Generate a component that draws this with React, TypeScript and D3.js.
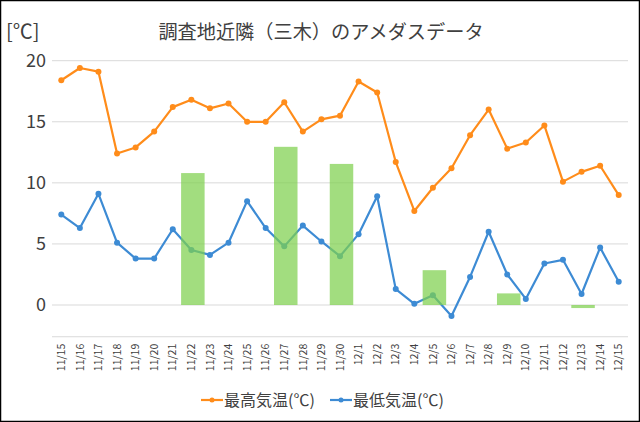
import React, { useEffect, useRef } from "react";
import * as d3 from "d3";

const dates = ["11/15","11/16","11/17","11/18","11/19","11/20","11/21","11/22","11/23","11/24","11/25","11/26","11/27","11/28","11/29","11/30","12/1","12/2","12/3","12/4","12/5","12/6","12/7","12/8","12/9","12/10","12/11","12/12","12/13","12/14","12/15"];
const maxTemp = [18.4,19.4,19.1,12.4,12.9,14.2,16.2,16.8,16.1,16.5,15.0,15.0,16.6,14.2,15.2,15.5,18.3,17.4,11.7,7.7,9.6,11.2,13.9,16.0,12.8,13.3,14.7,10.1,10.9,11.4,9.0];
const minTemp = [7.4,6.3,9.1,5.1,3.8,3.8,6.2,4.5,4.1,5.1,8.5,6.3,4.8,6.5,5.2,4.0,5.8,8.9,1.3,0.1,0.8,-0.9,2.3,6.0,2.5,0.5,3.4,3.7,0.9,4.7,1.9];
const barDates = ["11/22","11/27","11/30","12/5","12/9","12/13"];
const barValues = [10.8,12.95,11.55,2.85,0.95,-0.25];
const yTicks = [0,5,10,15,20];
const seriesNames = ["最高気温(℃)","最低気温(℃)"];

const W = 640, H = 422;
const FONT = "'Noto Sans CJK JP', 'Noto Sans', sans-serif";

export default function App() {
  const ref = useRef<SVGSVGElement>(null);
  useEffect(() => {
    document.body.style.margin = "0";
    const svg = d3.select(ref.current);
    svg.selectAll("*").remove();

    const left = 52, right = 628;
    const x = d3.scaleBand().domain(dates).range([left, right]);
    const y = d3.scaleLinear().domain([0, 20]).range([305, 60.7]);
    const cx = (d: string) => (x(d) as number) + x.bandwidth() / 2;
    const bottom = y(-2.6);

    svg.append("rect").attr("x", 0.5).attr("y", 0.5).attr("width", W - 1).attr("height", H - 1)
      .attr("fill", "#fff").attr("stroke", "#000").attr("stroke-width", 1.5);

    // grid
    svg.append("g").selectAll("line").data(yTicks).join("line")
      .attr("x1", left).attr("x2", right)
      .attr("y1", d => y(d)).attr("y2", d => y(d))
      .attr("stroke", "#d9d9d9").attr("stroke-width", 1);
    svg.append("line").attr("x1", left).attr("x2", right).attr("y1", bottom).attr("y2", bottom)
      .attr("stroke", "#d9d9d9").attr("stroke-width", 1);

    svg.append("g").selectAll("text").data(yTicks).join("text")
      .attr("x", 46).attr("y", d => y(d)).attr("dy", "0.35em")
      .attr("text-anchor", "end").attr("font-family", FONT).attr("font-size", 18)
      .attr("fill", "#404040").text(d => String(d));

    // x labels
    svg.append("g").selectAll("text").data(dates).join("text")
      .attr("transform", d => `translate(${cx(d)},${bottom + 7}) rotate(-90)`)
      .attr("text-anchor", "end").attr("dy", "0.35em")
      .attr("font-family", FONT).attr("font-size", 10.5).attr("fill", "#404040")
      .text(d => d);

    const series = [
      { values: maxTemp, color: "#ff8c1a" },
      { values: minTemp, color: "#3d8bd4" },
    ];
    series.forEach(s => {
      const line = d3.line<number>().x((_, i) => cx(dates[i])).y(v => y(v));
      svg.append("path").attr("d", line(s.values) as string)
        .attr("fill", "none").attr("stroke", s.color).attr("stroke-width", 2.2)
        .attr("stroke-linejoin", "round");
      svg.append("g").selectAll("circle").data(s.values).join("circle")
        .attr("cx", (_, i) => cx(dates[i])).attr("cy", v => y(v)).attr("r", 3)
        .attr("fill", s.color);
    });

    const bw = 23.5;
    svg.append("g").selectAll("rect").data(barValues).join("rect")
      .attr("x", (_, i) => cx(barDates[i]) - bw / 2 + 1.5)
      .attr("width", bw)
      .attr("y", v => Math.min(y(v), y(0)))
      .attr("height", v => Math.abs(y(v) - y(0)))
      .attr("fill", "#7ed04e").attr("fill-opacity", 0.72);

    // title
    svg.append("text").attr("x", 321).attr("y", 32).attr("dy", "0.35em")
      .attr("text-anchor", "middle").attr("font-family", FONT).attr("font-size", 19.2)
      .attr("fill", "#404040").text("調査地近隣（三木）のアメダスデータ");
    svg.append("text").attr("x", 6).attr("y", 32).attr("dy", "0.35em")
      .attr("font-family", FONT).attr("font-size", 20)
      .attr("fill", "#404040").text("[℃]");

    // legend
    const lg = svg.append("g");
    const legendX = [201, 330];
    seriesNames.forEach((name, i) => {
      const lx = legendX[i];
      const ly = 400;
      lg.append("line").attr("x1", lx).attr("x2", lx + 22).attr("y1", ly).attr("y2", ly)
        .attr("stroke", series[i].color).attr("stroke-width", 2.2);
      lg.append("circle").attr("cx", lx + 11).attr("cy", ly).attr("r", 2.5).attr("fill", series[i].color);
      lg.append("text").attr("x", lx + 23).attr("y", ly).attr("dy", "0.35em")
        .attr("font-family", FONT).attr("font-size", 16).attr("fill", "#404040").text(name);
    });
  }, []);
  return <svg ref={ref} width={W} height={H} style={{ display: "block", position: "absolute", left: 0, top: 0 }} />;
}
